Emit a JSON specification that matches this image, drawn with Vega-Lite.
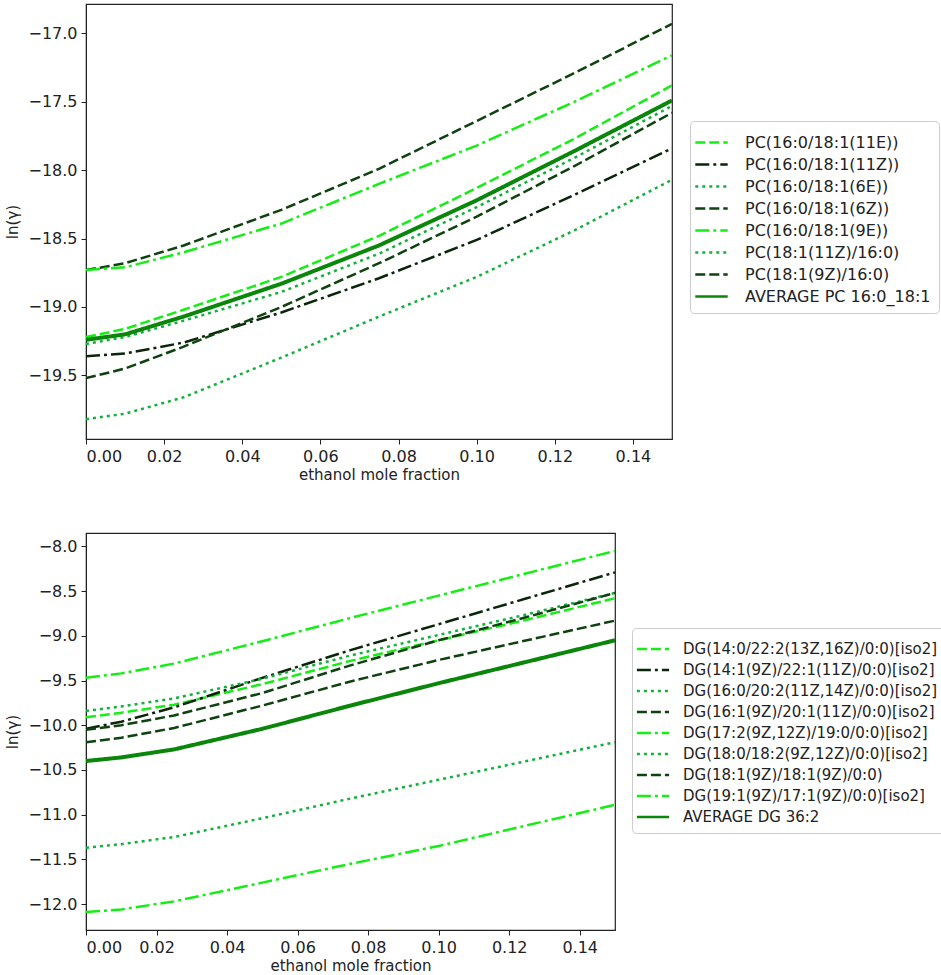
{
  "$schema": "https://vega.github.io/schema/vega-lite/v6.json",
  "padding": {"left": 5, "top": 3, "right": 0, "bottom": 0},
  "spacing": 49,
  "config": {
    "font": "DejaVu Sans",
    "view": {"stroke": "#222222", "strokeWidth": 1.2},
    "axis": {
      "grid": false, "labelFontSize": 16, "titleFontSize": 15, "titleFontWeight": "normal",
      "labelColor": "#222222", "titleColor": "#222222", "tickColor": "#222222", "domainColor": "#222222",
      "tickSize": 5, "labelPadding": 4, "labelFont": "DejaVu Sans", "titleFont": "DejaVu Sans"
    },
    "axisX": {"titlePadding": 3},
    "legend": {
      "title": null, "fillColor": "white", "strokeColor": "#cccccc", "cornerRadius": 4,
      "padding": 8, "symbolStrokeWidth": 2.5, "rowPadding": 0,
      "labelLimit": 500, "labelColor": "#222222", "labelFont": "DejaVu Sans"
    }
  },
  "datasets": {
    "pc": [
      {"s": "PC(16:0/18:1(11E))", "x": 0, "y": -19.22}, {"s": "PC(16:0/18:1(11E))", "x": 0.01, "y": -19.16},
      {"s": "PC(16:0/18:1(11E))", "x": 0.025, "y": -19.02}, {"s": "PC(16:0/18:1(11E))", "x": 0.05, "y": -18.78},
      {"s": "PC(16:0/18:1(11E))", "x": 0.075, "y": -18.48}, {"s": "PC(16:0/18:1(11E))", "x": 0.1, "y": -18.13},
      {"s": "PC(16:0/18:1(11E))", "x": 0.125, "y": -17.77}, {"s": "PC(16:0/18:1(11E))", "x": 0.15, "y": -17.38},
      {"s": "PC(16:0/18:1(11Z))", "x": 0, "y": -19.36}, {"s": "PC(16:0/18:1(11Z))", "x": 0.01, "y": -19.34},
      {"s": "PC(16:0/18:1(11Z))", "x": 0.025, "y": -19.26}, {"s": "PC(16:0/18:1(11Z))", "x": 0.05, "y": -19.04},
      {"s": "PC(16:0/18:1(11Z))", "x": 0.075, "y": -18.79}, {"s": "PC(16:0/18:1(11Z))", "x": 0.1, "y": -18.51},
      {"s": "PC(16:0/18:1(11Z))", "x": 0.125, "y": -18.18}, {"s": "PC(16:0/18:1(11Z))", "x": 0.15, "y": -17.84},
      {"s": "PC(16:0/18:1(6E))", "x": 0, "y": -19.82}, {"s": "PC(16:0/18:1(6E))", "x": 0.01, "y": -19.78},
      {"s": "PC(16:0/18:1(6E))", "x": 0.025, "y": -19.66}, {"s": "PC(16:0/18:1(6E))", "x": 0.05, "y": -19.37},
      {"s": "PC(16:0/18:1(6E))", "x": 0.075, "y": -19.07}, {"s": "PC(16:0/18:1(6E))", "x": 0.1, "y": -18.78},
      {"s": "PC(16:0/18:1(6E))", "x": 0.125, "y": -18.44}, {"s": "PC(16:0/18:1(6E))", "x": 0.15, "y": -18.07},
      {"s": "PC(16:0/18:1(6Z))", "x": 0, "y": -18.73}, {"s": "PC(16:0/18:1(6Z))", "x": 0.01, "y": -18.68},
      {"s": "PC(16:0/18:1(6Z))", "x": 0.025, "y": -18.55}, {"s": "PC(16:0/18:1(6Z))", "x": 0.05, "y": -18.29},
      {"s": "PC(16:0/18:1(6Z))", "x": 0.075, "y": -17.99}, {"s": "PC(16:0/18:1(6Z))", "x": 0.1, "y": -17.64},
      {"s": "PC(16:0/18:1(6Z))", "x": 0.125, "y": -17.29}, {"s": "PC(16:0/18:1(6Z))", "x": 0.15, "y": -16.93},
      {"s": "PC(16:0/18:1(9E))", "x": 0, "y": -18.73}, {"s": "PC(16:0/18:1(9E))", "x": 0.01, "y": -18.71},
      {"s": "PC(16:0/18:1(9E))", "x": 0.025, "y": -18.6}, {"s": "PC(16:0/18:1(9E))", "x": 0.05, "y": -18.39},
      {"s": "PC(16:0/18:1(9E))", "x": 0.075, "y": -18.1}, {"s": "PC(16:0/18:1(9E))", "x": 0.1, "y": -17.82},
      {"s": "PC(16:0/18:1(9E))", "x": 0.125, "y": -17.5}, {"s": "PC(16:0/18:1(9E))", "x": 0.15, "y": -17.16},
      {"s": "PC(18:1(11Z)/16:0)", "x": 0, "y": -19.27}, {"s": "PC(18:1(11Z)/16:0)", "x": 0.01, "y": -19.22},
      {"s": "PC(18:1(11Z)/16:0)", "x": 0.025, "y": -19.1}, {"s": "PC(18:1(11Z)/16:0)", "x": 0.05, "y": -18.89},
      {"s": "PC(18:1(11Z)/16:0)", "x": 0.075, "y": -18.61}, {"s": "PC(18:1(11Z)/16:0)", "x": 0.1, "y": -18.27},
      {"s": "PC(18:1(11Z)/16:0)", "x": 0.125, "y": -17.91}, {"s": "PC(18:1(11Z)/16:0)", "x": 0.15, "y": -17.53},
      {"s": "PC(18:1(9Z)/16:0)", "x": 0, "y": -19.52}, {"s": "PC(18:1(9Z)/16:0)", "x": 0.01, "y": -19.45},
      {"s": "PC(18:1(9Z)/16:0)", "x": 0.025, "y": -19.29}, {"s": "PC(18:1(9Z)/16:0)", "x": 0.05, "y": -19.0},
      {"s": "PC(18:1(9Z)/16:0)", "x": 0.075, "y": -18.68}, {"s": "PC(18:1(9Z)/16:0)", "x": 0.1, "y": -18.34},
      {"s": "PC(18:1(9Z)/16:0)", "x": 0.125, "y": -17.97}, {"s": "PC(18:1(9Z)/16:0)", "x": 0.15, "y": -17.58},
      {"s": "AVERAGE PC 16:0_18:1", "x": 0, "y": -19.24}, {"s": "AVERAGE PC 16:0_18:1", "x": 0.01, "y": -19.2},
      {"s": "AVERAGE PC 16:0_18:1", "x": 0.025, "y": -19.07}, {"s": "AVERAGE PC 16:0_18:1", "x": 0.05, "y": -18.83},
      {"s": "AVERAGE PC 16:0_18:1", "x": 0.075, "y": -18.55}, {"s": "AVERAGE PC 16:0_18:1", "x": 0.1, "y": -18.22},
      {"s": "AVERAGE PC 16:0_18:1", "x": 0.125, "y": -17.86}, {"s": "AVERAGE PC 16:0_18:1", "x": 0.15, "y": -17.49}
    ],
    "dg": [
      {"s": "DG(14:0/22:2(13Z,16Z)/0:0)[iso2]", "x": 0, "y": -9.91}, {"s": "DG(14:0/22:2(13Z,16Z)/0:0)[iso2]", "x": 0.01, "y": -9.86},
      {"s": "DG(14:0/22:2(13Z,16Z)/0:0)[iso2]", "x": 0.025, "y": -9.77}, {"s": "DG(14:0/22:2(13Z,16Z)/0:0)[iso2]", "x": 0.05, "y": -9.54},
      {"s": "DG(14:0/22:2(13Z,16Z)/0:0)[iso2]", "x": 0.075, "y": -9.28}, {"s": "DG(14:0/22:2(13Z,16Z)/0:0)[iso2]", "x": 0.1, "y": -9.05},
      {"s": "DG(14:0/22:2(13Z,16Z)/0:0)[iso2]", "x": 0.125, "y": -8.82}, {"s": "DG(14:0/22:2(13Z,16Z)/0:0)[iso2]", "x": 0.15, "y": -8.58},
      {"s": "DG(14:1(9Z)/22:1(11Z)/0:0)[iso2]", "x": 0, "y": -10.04}, {"s": "DG(14:1(9Z)/22:1(11Z)/0:0)[iso2]", "x": 0.01, "y": -9.96},
      {"s": "DG(14:1(9Z)/22:1(11Z)/0:0)[iso2]", "x": 0.025, "y": -9.8}, {"s": "DG(14:1(9Z)/22:1(11Z)/0:0)[iso2]", "x": 0.05, "y": -9.47},
      {"s": "DG(14:1(9Z)/22:1(11Z)/0:0)[iso2]", "x": 0.075, "y": -9.16}, {"s": "DG(14:1(9Z)/22:1(11Z)/0:0)[iso2]", "x": 0.1, "y": -8.87},
      {"s": "DG(14:1(9Z)/22:1(11Z)/0:0)[iso2]", "x": 0.125, "y": -8.58}, {"s": "DG(14:1(9Z)/22:1(11Z)/0:0)[iso2]", "x": 0.15, "y": -8.29},
      {"s": "DG(16:0/20:2(11Z,14Z)/0:0)[iso2]", "x": 0, "y": -9.84}, {"s": "DG(16:0/20:2(11Z,14Z)/0:0)[iso2]", "x": 0.01, "y": -9.79},
      {"s": "DG(16:0/20:2(11Z,14Z)/0:0)[iso2]", "x": 0.025, "y": -9.7}, {"s": "DG(16:0/20:2(11Z,14Z)/0:0)[iso2]", "x": 0.05, "y": -9.48},
      {"s": "DG(16:0/20:2(11Z,14Z)/0:0)[iso2]", "x": 0.075, "y": -9.22}, {"s": "DG(16:0/20:2(11Z,14Z)/0:0)[iso2]", "x": 0.1, "y": -8.99},
      {"s": "DG(16:0/20:2(11Z,14Z)/0:0)[iso2]", "x": 0.125, "y": -8.76}, {"s": "DG(16:0/20:2(11Z,14Z)/0:0)[iso2]", "x": 0.15, "y": -8.52},
      {"s": "DG(16:1(9Z)/20:1(11Z)/0:0)[iso2]", "x": 0, "y": -10.05}, {"s": "DG(16:1(9Z)/20:1(11Z)/0:0)[iso2]", "x": 0.01, "y": -10.0},
      {"s": "DG(16:1(9Z)/20:1(11Z)/0:0)[iso2]", "x": 0.025, "y": -9.89}, {"s": "DG(16:1(9Z)/20:1(11Z)/0:0)[iso2]", "x": 0.05, "y": -9.64},
      {"s": "DG(16:1(9Z)/20:1(11Z)/0:0)[iso2]", "x": 0.075, "y": -9.33}, {"s": "DG(16:1(9Z)/20:1(11Z)/0:0)[iso2]", "x": 0.1, "y": -9.05},
      {"s": "DG(16:1(9Z)/20:1(11Z)/0:0)[iso2]", "x": 0.125, "y": -8.79}, {"s": "DG(16:1(9Z)/20:1(11Z)/0:0)[iso2]", "x": 0.15, "y": -8.52},
      {"s": "DG(17:2(9Z,12Z)/19:0/0:0)[iso2]", "x": 0, "y": -9.47}, {"s": "DG(17:2(9Z,12Z)/19:0/0:0)[iso2]", "x": 0.01, "y": -9.42},
      {"s": "DG(17:2(9Z,12Z)/19:0/0:0)[iso2]", "x": 0.025, "y": -9.31}, {"s": "DG(17:2(9Z,12Z)/19:0/0:0)[iso2]", "x": 0.05, "y": -9.06},
      {"s": "DG(17:2(9Z,12Z)/19:0/0:0)[iso2]", "x": 0.075, "y": -8.8}, {"s": "DG(17:2(9Z,12Z)/19:0/0:0)[iso2]", "x": 0.1, "y": -8.55},
      {"s": "DG(17:2(9Z,12Z)/19:0/0:0)[iso2]", "x": 0.125, "y": -8.3}, {"s": "DG(17:2(9Z,12Z)/19:0/0:0)[iso2]", "x": 0.15, "y": -8.05},
      {"s": "DG(18:0/18:2(9Z,12Z)/0:0)[iso2]", "x": 0, "y": -11.37}, {"s": "DG(18:0/18:2(9Z,12Z)/0:0)[iso2]", "x": 0.01, "y": -11.33},
      {"s": "DG(18:0/18:2(9Z,12Z)/0:0)[iso2]", "x": 0.025, "y": -11.25}, {"s": "DG(18:0/18:2(9Z,12Z)/0:0)[iso2]", "x": 0.05, "y": -11.04},
      {"s": "DG(18:0/18:2(9Z,12Z)/0:0)[iso2]", "x": 0.075, "y": -10.82}, {"s": "DG(18:0/18:2(9Z,12Z)/0:0)[iso2]", "x": 0.1, "y": -10.61},
      {"s": "DG(18:0/18:2(9Z,12Z)/0:0)[iso2]", "x": 0.125, "y": -10.4}, {"s": "DG(18:0/18:2(9Z,12Z)/0:0)[iso2]", "x": 0.15, "y": -10.19},
      {"s": "DG(18:1(9Z)/18:1(9Z)/0:0)", "x": 0, "y": -10.19}, {"s": "DG(18:1(9Z)/18:1(9Z)/0:0)", "x": 0.01, "y": -10.14},
      {"s": "DG(18:1(9Z)/18:1(9Z)/0:0)", "x": 0.025, "y": -10.03}, {"s": "DG(18:1(9Z)/18:1(9Z)/0:0)", "x": 0.05, "y": -9.78},
      {"s": "DG(18:1(9Z)/18:1(9Z)/0:0)", "x": 0.075, "y": -9.51}, {"s": "DG(18:1(9Z)/18:1(9Z)/0:0)", "x": 0.1, "y": -9.27},
      {"s": "DG(18:1(9Z)/18:1(9Z)/0:0)", "x": 0.125, "y": -9.05}, {"s": "DG(18:1(9Z)/18:1(9Z)/0:0)", "x": 0.15, "y": -8.83},
      {"s": "DG(19:1(9Z)/17:1(9Z)/0:0)[iso2]", "x": 0, "y": -12.09}, {"s": "DG(19:1(9Z)/17:1(9Z)/0:0)[iso2]", "x": 0.01, "y": -12.06},
      {"s": "DG(19:1(9Z)/17:1(9Z)/0:0)[iso2]", "x": 0.025, "y": -11.97}, {"s": "DG(19:1(9Z)/17:1(9Z)/0:0)[iso2]", "x": 0.05, "y": -11.76},
      {"s": "DG(19:1(9Z)/17:1(9Z)/0:0)[iso2]", "x": 0.075, "y": -11.55}, {"s": "DG(19:1(9Z)/17:1(9Z)/0:0)[iso2]", "x": 0.1, "y": -11.35},
      {"s": "DG(19:1(9Z)/17:1(9Z)/0:0)[iso2]", "x": 0.125, "y": -11.12}, {"s": "DG(19:1(9Z)/17:1(9Z)/0:0)[iso2]", "x": 0.15, "y": -10.89},
      {"s": "AVERAGE DG 36:2", "x": 0, "y": -10.4}, {"s": "AVERAGE DG 36:2", "x": 0.01, "y": -10.36},
      {"s": "AVERAGE DG 36:2", "x": 0.025, "y": -10.27}, {"s": "AVERAGE DG 36:2", "x": 0.05, "y": -10.04},
      {"s": "AVERAGE DG 36:2", "x": 0.075, "y": -9.78}, {"s": "AVERAGE DG 36:2", "x": 0.1, "y": -9.53},
      {"s": "AVERAGE DG 36:2", "x": 0.125, "y": -9.29}, {"s": "AVERAGE DG 36:2", "x": 0.15, "y": -9.05}
    ]
  },
  "resolve": {
    "scale": {"color": "independent", "strokeDash": "independent"},
    "legend": {"color": "independent", "strokeDash": "independent"}
  },
  "vconcat": [
    {
      "width": 586,
      "height": 435,
      "data": {"name": "pc"},
      "mark": {"type": "line", "clip": true},
      "encoding": {
        "x": {"field": "x", "type": "quantitative", "scale": {"domain": [0, 0.15], "nice": false, "zero": false},
          "axis": {"values": [0, 0.02, 0.04, 0.06, 0.08, 0.1, 0.12, 0.14], "format": ".2f", "title": "ethanol mole fraction"}},
        "y": {"field": "y", "type": "quantitative", "scale": {"domain": [-19.965, -16.785], "nice": false, "zero": false},
          "axis": {"values": [-19.5, -19, -18.5, -18, -17.5, -17], "format": ".1f", "title": "ln(γ)", "titlePadding": 7}},
        "color": {"field": "s", "type": "nominal",
          "scale": {"domain": ["PC(16:0/18:1(11E))", "PC(16:0/18:1(11Z))", "PC(16:0/18:1(6E))", "PC(16:0/18:1(6Z))", "PC(16:0/18:1(9E))", "PC(18:1(11Z)/16:0)", "PC(18:1(9Z)/16:0)", "AVERAGE PC 16:0_18:1"],
            "range": ["#14ee14", "#0a260a", "#12b03c", "#0e420e", "#14ee14", "#12b03c", "#0e420e", "#0a860a"]},
          "legend": {"orient": "none", "legendX": 604, "legendY": 117, "symbolType": "M-1.35,0H1.35", "symbolSize": 576, "labelOffset": 20, "labelFontSize": 16}},
        "strokeDash": {"field": "s", "type": "nominal",
          "scale": {"domain": ["PC(16:0/18:1(11E))", "PC(16:0/18:1(11Z))", "PC(16:0/18:1(6E))", "PC(16:0/18:1(6Z))", "PC(16:0/18:1(9E))", "PC(18:1(11Z)/16:0)", "PC(18:1(9Z)/16:0)", "AVERAGE PC 16:0_18:1"],
            "range": [[10, 4], [14, 4, 3, 4], [3, 4], [10, 4], [14, 4, 3, 4], [3, 4], [10, 4], [1, 0]]},
          "legend": {"orient": "none", "legendX": 604, "legendY": 117, "symbolType": "M-1.35,0H1.35", "symbolSize": 576, "labelOffset": 20, "labelFontSize": 16}},
        "strokeWidth": {"condition": {"test": "datum.s == 'AVERAGE PC 16:0_18:1'", "value": 4}, "value": 2.5}
      }
    },
    {
      "width": 529,
      "height": 397,
      "data": {"name": "dg"},
      "mark": {"type": "line", "clip": true},
      "encoding": {
        "x": {"field": "x", "type": "quantitative", "scale": {"domain": [0, 0.15], "nice": false, "zero": false},
          "axis": {"values": [0, 0.02, 0.04, 0.06, 0.08, 0.1, 0.12, 0.14], "format": ".2f", "title": "ethanol mole fraction"}},
        "y": {"field": "y", "type": "quantitative", "scale": {"domain": [-12.29, -7.85], "nice": false, "zero": false},
          "axis": {"values": [-12, -11.5, -11, -10.5, -10, -9.5, -9, -8.5, -8], "format": ".1f", "title": "ln(γ)", "titlePadding": 7}},
        "color": {"field": "s", "type": "nominal",
          "scale": {"domain": ["DG(14:0/22:2(13Z,16Z)/0:0)[iso2]", "DG(14:1(9Z)/22:1(11Z)/0:0)[iso2]", "DG(16:0/20:2(11Z,14Z)/0:0)[iso2]", "DG(16:1(9Z)/20:1(11Z)/0:0)[iso2]", "DG(17:2(9Z,12Z)/19:0/0:0)[iso2]", "DG(18:0/18:2(9Z,12Z)/0:0)[iso2]", "DG(18:1(9Z)/18:1(9Z)/0:0)", "DG(19:1(9Z)/17:1(9Z)/0:0)[iso2]", "AVERAGE DG 36:2"],
            "range": ["#14ee14", "#0a260a", "#12b03c", "#0e420e", "#14ee14", "#12b03c", "#0e420e", "#14ee14", "#0a860a"]},
          "legend": {"orient": "none", "legendX": 546, "legendY": 95, "symbolType": "M-1.4,0H1.4", "symbolSize": 529, "labelOffset": 17, "labelFontSize": 15}},
        "strokeDash": {"field": "s", "type": "nominal",
          "scale": {"domain": ["DG(14:0/22:2(13Z,16Z)/0:0)[iso2]", "DG(14:1(9Z)/22:1(11Z)/0:0)[iso2]", "DG(16:0/20:2(11Z,14Z)/0:0)[iso2]", "DG(16:1(9Z)/20:1(11Z)/0:0)[iso2]", "DG(17:2(9Z,12Z)/19:0/0:0)[iso2]", "DG(18:0/18:2(9Z,12Z)/0:0)[iso2]", "DG(18:1(9Z)/18:1(9Z)/0:0)", "DG(19:1(9Z)/17:1(9Z)/0:0)[iso2]", "AVERAGE DG 36:2"],
            "range": [[10, 4], [14, 4, 3, 4], [3, 4], [10, 4], [14, 4, 3, 4], [3, 4], [10, 4], [14, 4, 3, 4], [1, 0]]},
          "legend": {"orient": "none", "legendX": 546, "legendY": 95, "symbolType": "M-1.4,0H1.4", "symbolSize": 529, "labelOffset": 17, "labelFontSize": 15}},
        "strokeWidth": {"condition": {"test": "datum.s == 'AVERAGE DG 36:2'", "value": 4}, "value": 2.5}
      }
    }
  ]
}
